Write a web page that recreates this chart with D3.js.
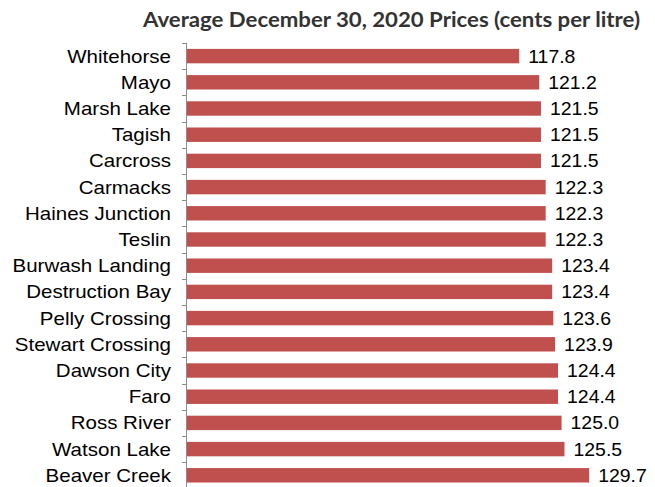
<!DOCTYPE html>
<meta charset="utf-8">
<style>
body { margin: 0; background: #fff; }
.title { font: bold 21px Lato, "Open Sans", sans-serif; fill: #333; }
.cat, .val { font: 18px "Liberation Sans", Arial, sans-serif; fill: #000; }
.axis line, .axis path { stroke: #8c8c8c; }
</style>
<svg width="655" height="487"></svg>
<script src="https://d3js.org/d3.v7.min.js"></script>
<script>

var places = ["Whitehorse", "Mayo", "Marsh Lake", "Tagish", "Carcross", "Carmacks",
  "Haines Junction", "Teslin", "Burwash Landing", "Destruction Bay", "Pelly Crossing",
  "Stewart Crossing", "Dawson City", "Faro", "Ross River", "Watson Lake", "Beaver Creek"];
var prices = [117.8, 121.2, 121.5, 121.5, 121.5, 122.3, 122.3, 122.3, 123.4, 123.4,
  123.6, 123.9, 124.4, 124.4, 125.0, 125.5, 129.7];
var title = "Average December 30, 2020 Prices (cents per litre)";

var svg = d3.select("svg");

var x = d3.scaleLinear()
    .domain([61.3, 129.7])
    .range([187, 187 + (129.7 - 61.3) * 5.88]);

var y = d3.scaleBand()
    .domain(places)
    .range([43, 488.4])
    .paddingInner(0.45)
    .paddingOuter(0.225);

svg.append("text")
    .attr("class", "title")
    .attr("x", 143)
    .attr("y", 27)
    .attr("textLength", 497)
    .attr("lengthAdjust", "spacingAndGlyphs")
    .text(title);

// bars
svg.append("g")
  .selectAll("rect")
  .data(places)
  .enter().append("rect")
    .attr("x", x(61.3))
    .attr("y", function(d) { return y(d); })
    .attr("width", function(d, i) { return x(prices[i]) - x(61.3); })
    .attr("height", y.bandwidth())
    .attr("fill", "#c0504d");

// axis line + boundary ticks
var axis = svg.append("g").attr("class", "axis");
axis.append("line")
    .attr("x1", 186.5).attr("x2", 186.5)
    .attr("y1", 43).attr("y2", 488.4);
axis.selectAll(".tk")
  .data(d3.range(places.length + 1))
  .enter().append("line")
    .attr("class", "tk")
    .attr("x1", 182).attr("x2", 186.5)
    .attr("y1", function(i) { return Math.round(43 + i * y.step()) + 0.5; })
    .attr("y2", function(i) { return Math.round(43 + i * y.step()) + 0.5; });

// category labels (source text is a bit stretched horizontally)
svg.append("g")
  .selectAll("text")
  .data(places)
  .enter().append("text")
    .attr("class", "cat")
    .attr("transform", function(d) {
      return "translate(171," + (y(d) + y.bandwidth() / 2) + ") scale(1.14,1)";
    })
    .attr("dy", "0.36em")
    .attr("text-anchor", "end")
    .text(function(d) { return d; });

// value labels
svg.append("g")
  .selectAll("text")
  .data(places)
  .enter().append("text")
    .attr("class", "val")
    .attr("transform", function(d, i) {
      return "translate(" + (x(prices[i]) + 9) + "," + (y(d) + y.bandwidth() / 2) + ") scale(1.08,1)";
    })
    .attr("dy", "0.36em")
    .text(function(d, i) { return prices[i].toFixed(1); });

</script>
